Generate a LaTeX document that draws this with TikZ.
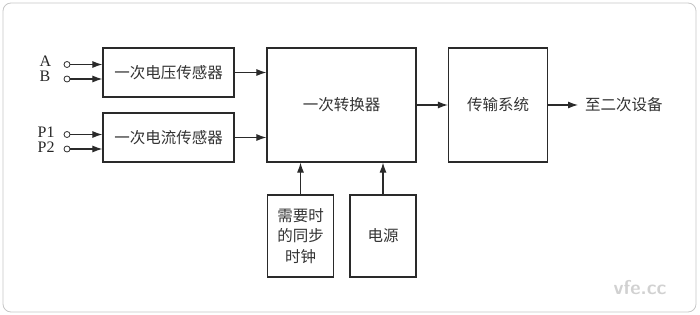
\documentclass[tikz,border=0pt]{standalone}
\usepackage{fontspec}
\setmainfont{Liberation Serif}
\newfontfamily\cjk{Noto Sans CJK SC}
\usetikzlibrary{arrows.meta}
\definecolor{linec}{HTML}{2A2A2A}
\tikzset{
  box/.style={draw=linec, line width=1.2pt, rectangle, inner sep=0pt, font=\cjk\fontsize{15.5}{20.5}\selectfont, text=black!80, align=center},
  arr/.style={draw=linec, line width=1.1pt, -{Latex[length=10pt,width=7pt]}},
  term/.style={draw=linec, line width=0.8pt, circle, inner sep=0pt, minimum size=6pt, fill=white},
  lab/.style={font=\fontsize{16}{18}\selectfont, anchor=base west, inner sep=0pt, text=black!85},
  cjklab/.style={font=\cjk\fontsize{15.5}{18}\selectfont, anchor=west, inner sep=0pt, text=black!80}
}
\begin{document}
\begin{tikzpicture}[x=1pt,y=-1pt]
\useasboundingbox (0,0) rectangle (700,315);
\draw[draw=black!22, line width=0.8pt, rounded corners=8pt] (3,3) rectangle (696,312);
% boxes
\node[box, minimum width=131pt, minimum height=49pt] (vs) at (168.5,72.5) {一次电压传感器};
\node[box, minimum width=131pt, minimum height=49pt] (cs) at (168.5,137.5) {一次电流传感器};
\node[box, minimum width=149pt, minimum height=114pt] (conv) at (341.5,105) {一次转换器};
\node[box, minimum width=99pt, minimum height=114pt] (trans) at (498,105) {传输系统};
\node[box, minimum width=66pt, minimum height=82pt] (clk) at (300.5,236) {需要时\\的同步\\时钟};
\node[box, minimum width=66pt, minimum height=82pt] (pwr) at (383,236) {电源};
% input terminals
\node[lab] (la) at (39.5,67) {A};
\node[lab] (lb) at (39.5,82) {B};
\node[lab] (lp1) at (37.5,138) {P1};
\node[lab] (lp2) at (37.5,152.5) {P2};
\node[term] (ta) at (67,64.5) {};
\node[term] (tb) at (67,79) {};
\node[term] (tp1) at (67,134.5) {};
\node[term] (tp2) at (67,149) {};
\draw[arr] (ta) -- (ta -| vs.west);
\draw[arr] (tb) -- (tb -| vs.west);
\draw[arr] (tp1) -- (tp1 -| cs.west);
\draw[arr] (tp2) -- (tp2 -| cs.west);
% connections
\draw[arr] (vs.east) -- (vs.east -| conv.west);
\draw[arr] (cs.east) -- (cs.east -| conv.west);
\draw[arr] (conv.east) -- (trans.west);
\draw[arr] (clk.north) -- (clk.north |- conv.south);
\draw[arr] (pwr.north) -- (pwr.north |- conv.south);
\coordinate (outend) at (578,105);
\draw[arr] (trans.east) -- (outend);
\node[cjklab] (out) at (585,105) {至二次设备};
% watermark
\node[font=\sffamily\bfseries\fontsize{20}{22}\selectfont, text=black!18] (wm) at (640,288) {vfe.cc};
\end{tikzpicture}
\end{document}
